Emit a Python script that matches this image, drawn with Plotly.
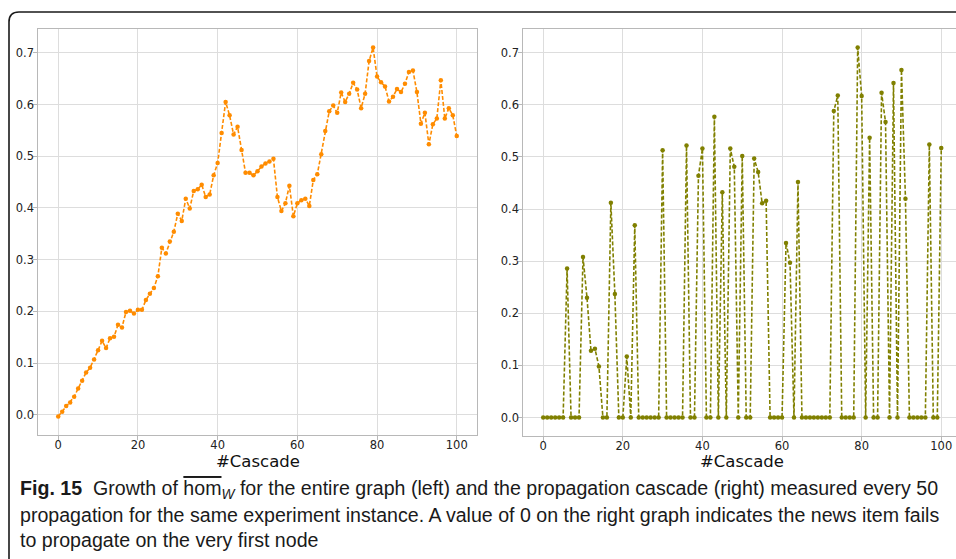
import plotly.graph_objects as go

W, H = 956, 559

cascade = list(range(101))

hom_entire = [
    -0.003, 0.006, 0.017, 0.024, 0.035, 0.051, 0.066, 0.082, 0.091, 0.107,
    0.125, 0.143, 0.129, 0.148, 0.151, 0.174, 0.169, 0.199, 0.201, 0.196,
    0.203, 0.203, 0.222, 0.234, 0.245, 0.268, 0.323, 0.312, 0.335, 0.354,
    0.389, 0.375, 0.418, 0.399, 0.433, 0.436, 0.445, 0.421, 0.426, 0.463,
    0.487, 0.545, 0.605, 0.579, 0.542, 0.557, 0.512, 0.468, 0.468, 0.463,
    0.471, 0.480, 0.486, 0.490, 0.495, 0.421, 0.394, 0.409, 0.443, 0.384,
    0.409, 0.415, 0.418, 0.404, 0.454, 0.465, 0.504, 0.549, 0.587, 0.598,
    0.584, 0.623, 0.605, 0.621, 0.642, 0.629, 0.593, 0.621, 0.684, 0.710,
    0.654, 0.643, 0.635, 0.606, 0.615, 0.630, 0.624, 0.640, 0.663, 0.666,
    0.624, 0.563, 0.584, 0.523, 0.562, 0.573, 0.647, 0.573, 0.593, 0.579,
    0.539,
]

hom_cascade = [
    0, 0, 0, 0, 0, 0, 0.286, 0, 0, 0,
    0.308, 0.230, 0.128, 0.132, 0.098, 0, 0, 0.412, 0.237, 0,
    0, 0.117, 0, 0.369, 0, 0, 0, 0, 0, 0,
    0.513, 0, 0, 0, 0, 0, 0.522, 0, 0, 0.464,
    0.516, 0, 0, 0.577, 0, 0.432, 0, 0.516, 0.481, 0,
    0.502, 0, 0, 0.497, 0.471, 0.411, 0.416, 0, 0, 0,
    0, 0.335, 0.297, 0, 0.452, 0, 0, 0, 0, 0,
    0, 0, 0, 0.588, 0.618, 0, 0, 0, 0, 0.710,
    0.617, 0, 0.537, 0, 0, 0.623, 0.567, 0, 0.642, 0,
    0.667, 0.420, 0, 0, 0, 0, 0, 0.524, 0, 0,
    0.517,
]

x_ticks = [0, 20, 40, 60, 80, 100]
y_ticks = [0.0, 0.1, 0.2, 0.3, 0.4, 0.5, 0.6, 0.7]
y_tick_labels = ["0.0", "0.1", "0.2", "0.3", "0.4", "0.5", "0.6", "0.7"]
x_title = "#Cascade"

caption_lines = [
    "<b>Fig. 15</b>&nbsp;&nbsp;Growth of <span style='text-decoration:overline'>hom</span><sub><i>W</i></sub> for the entire graph (left) and the propagation cascade (right) measured every 50",
    "propagation for the same experiment instance. A value of 0 on the right graph indicates the news item fails",
    "to propagate on the very first node",
]

ORANGE = "#ff8c00"
OLIVE = "#808000"
GRID = "#dddddd"
SPINE = "#b8b8b8"
TICKFONT = dict(family="DejaVu Sans", size=11.5, color="#222222")

fig = go.Figure()
fig.add_trace(go.Scatter(
    x=cascade, y=hom_entire, mode="lines+markers",
    line=dict(color=ORANGE, width=1.6, dash="4px,2px"),
    marker=dict(color=ORANGE, size=4.5),
    xaxis="x", yaxis="y", showlegend=False,
))
fig.add_trace(go.Scatter(
    x=cascade, y=hom_cascade, mode="lines+markers",
    line=dict(color=OLIVE, width=1.6, dash="4px,2px"),
    marker=dict(color=OLIVE, size=4.5),
    xaxis="x2", yaxis="y2", showlegend=False,
))


def px_x(p):
    return p / W


def px_y(p):
    return 1 - p / H


common_x = dict(
    tickvals=x_ticks, showgrid=True, gridcolor=GRID, gridwidth=1,
    zeroline=False, showline=True, linecolor=SPINE, linewidth=1,
    ticks="outside", ticklen=4, tickcolor=SPINE, tickfont=TICKFONT,
    ticklabelstandoff=-5,
)
common_y = dict(
    tickvals=y_ticks, ticktext=y_tick_labels, showgrid=True, gridcolor=GRID,
    gridwidth=1, zeroline=False, showline=True, linecolor=SPINE, linewidth=1,
    ticks="outside", ticklen=4, tickcolor=SPINE, tickfont=TICKFONT,
    ticklabelstandoff=-3,
)

fig.update_layout(
    width=W, height=H,
    margin=dict(l=0, r=0, t=0, b=0),
    paper_bgcolor="white", plot_bgcolor="white",
    hovermode=False,
    xaxis=dict(common_x, domain=[px_x(38.3), px_x(476.7)], range=[-5, 105],
               anchor="y", mirror=True),
    yaxis=dict(common_y, domain=[px_y(435), px_y(29)], range=[-0.039, 0.746],
               anchor="x", mirror=True),
    xaxis2=dict(common_x, domain=[px_x(523.3), 1.0], range=[-5, 103.7],
                anchor="y2", mirror=True),
    yaxis2=dict(common_y, domain=[px_y(436), px_y(29)], range=[-0.0355, 0.7455],
                anchor="x2", mirror=False),
)

# axis titles
for xr in ["x", "x2"]:
    fig.add_annotation(
        x=50, xref=xr, y=px_y(461), yref="paper",
        text=x_title, showarrow=False, xanchor="center", yanchor="middle",
        font=dict(family="DejaVu Sans", size=16.5, color="#111111"),
    )

# caption
cap_y = [489, 515, 540]
for line, yy in zip(caption_lines, cap_y):
    fig.add_annotation(
        x=px_x(18), xref="paper", y=px_y(yy), yref="paper",
        text=line, showarrow=False, xanchor="left", yanchor="middle",
        align="left",
        font=dict(family="Liberation Sans", size=19.6, color="#1a1a1a"),
    )

# frame around the figure
fx0, fy0, r = 9.0, 12.0, 10.0
path = (
    f"M {px_x(fx0)},{px_y(560)} L {px_x(fx0)},{px_y(fy0 + r)} "
    f"Q {px_x(fx0)},{px_y(fy0)} {px_x(fx0 + r)},{px_y(fy0)} L {px_x(958)},{px_y(fy0)}"
)
fig.add_shape(type="path", path=path, xref="paper", yref="paper",
              line=dict(color="#1a1a1a", width=1.6))

fig.write_html(
    "out.html",
    config={"displayModeBar": False, "staticPlot": True},
    post_script="document.body.style.margin='0';document.body.style.overflow='hidden';",
)
